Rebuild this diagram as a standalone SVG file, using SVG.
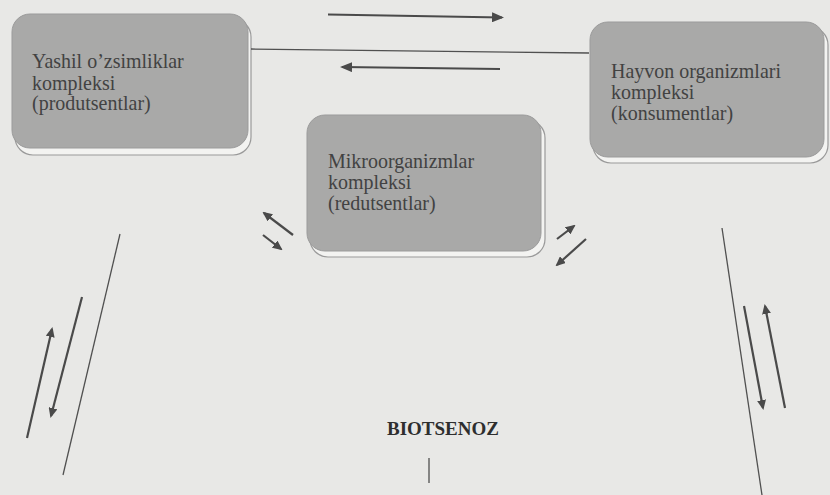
<svg xmlns="http://www.w3.org/2000/svg" width="830" height="495" viewBox="0 0 830 495">
<style>
.shadow{fill:#f3f3f1;stroke:#9a9a9a;stroke-width:1.2}
.box{fill:#a9a9a8;stroke:#9b9b9b;stroke-width:1}
.lbl{font-family:"Liberation Serif","Times New Roman",serif;font-size:21.5px;fill:#424242}
.title{font-family:"Liberation Serif","Times New Roman",serif;font-size:19px;font-weight:bold;fill:#2e2e2e}
.arr{stroke:#4a4a4a;stroke-width:2.2;fill:none}
.ln{stroke:#505050;stroke-width:1.3;fill:none}
</style>
<defs>
<marker id="ah" markerUnits="userSpaceOnUse" markerWidth="12" markerHeight="10" refX="10" refY="5" orient="auto">
<path d="M0,0 L12,5 L0,10 z" fill="#4a4a4a"/>
</marker>
<marker id="ahs" markerUnits="userSpaceOnUse" markerWidth="10" markerHeight="9" refX="8" refY="4.5" orient="auto">
<path d="M0,0 L10,4.5 L0,9 z" fill="#4a4a4a"/>
</marker>
</defs>
<rect x="0" y="0" width="830" height="495" fill="#e8e8e6"/>

<g id="produtsentlar">
<rect class="shadow" x="15" y="19" width="236" height="136" rx="18"/>
<rect class="box" x="12" y="14" width="236" height="134" rx="18"/>
<text class="lbl" transform="translate(32 68) scale(0.93 1)">Yashil o’zsimliklar</text>
<text class="lbl" transform="translate(32 89.5) scale(0.93 1)">kompleksi</text>
<text class="lbl" transform="translate(32 110) scale(0.93 1)">(produtsentlar)</text>
</g>

<g id="konsumentlar">
<rect class="shadow" x="593" y="27" width="235" height="136" rx="18"/>
<rect class="box" x="590" y="22" width="234" height="135" rx="18"/>
<text class="lbl" transform="translate(611 78) scale(0.93 1)">Hayvon organizmlari</text>
<text class="lbl" transform="translate(611 99) scale(0.93 1)">kompleksi</text>
<text class="lbl" transform="translate(611 120) scale(0.93 1)">(konsumentlar)</text>
</g>

<g id="redutsentlar">
<rect class="shadow" x="310" y="120" width="235" height="137" rx="18"/>
<rect class="box" x="307" y="115" width="234" height="136" rx="18"/>
<text class="lbl" transform="translate(328 168) scale(0.93 1)">Mikroorganizmlar</text>
<text class="lbl" transform="translate(328 189) scale(0.93 1)">kompleksi</text>
<text class="lbl" transform="translate(328 210) scale(0.93 1)">(redutsentlar)</text>
</g>

<g id="biotsenoz">
<text class="title" x="387" y="435">BIOTSENOZ</text>
</g>

<g id="connectors">
<line class="arr" x1="328" y1="14.5" x2="502" y2="17.5" marker-end="url(#ah)"/>
<line class="ln" x1="251" y1="49" x2="589" y2="53"/>
<line class="arr" x1="500" y1="69" x2="342" y2="67" marker-end="url(#ah)"/>

<line class="arr" x1="293" y1="235" x2="264" y2="213" marker-end="url(#ahs)"/>
<line class="arr" x1="263" y1="235" x2="281" y2="249" marker-end="url(#ahs)"/>
<line class="arr" x1="557" y1="239" x2="574" y2="226" marker-end="url(#ahs)"/>
<line class="arr" x1="586" y1="239" x2="557" y2="265" marker-end="url(#ahs)"/>

<line class="ln" x1="120" y1="234" x2="63" y2="475"/>
<line class="arr" x1="82" y1="297" x2="51" y2="416" marker-end="url(#ahs)"/>
<line class="arr" x1="27" y1="438" x2="52" y2="329" marker-end="url(#ahs)"/>

<line class="ln" x1="722" y1="228" x2="762" y2="495"/>
<line class="arr" x1="744" y1="306" x2="763" y2="408" marker-end="url(#ahs)"/>
<line class="arr" x1="785" y1="408" x2="765" y2="306" marker-end="url(#ahs)"/>

<line class="ln" x1="429" y1="458" x2="429" y2="483"/>
</g>
</svg>
